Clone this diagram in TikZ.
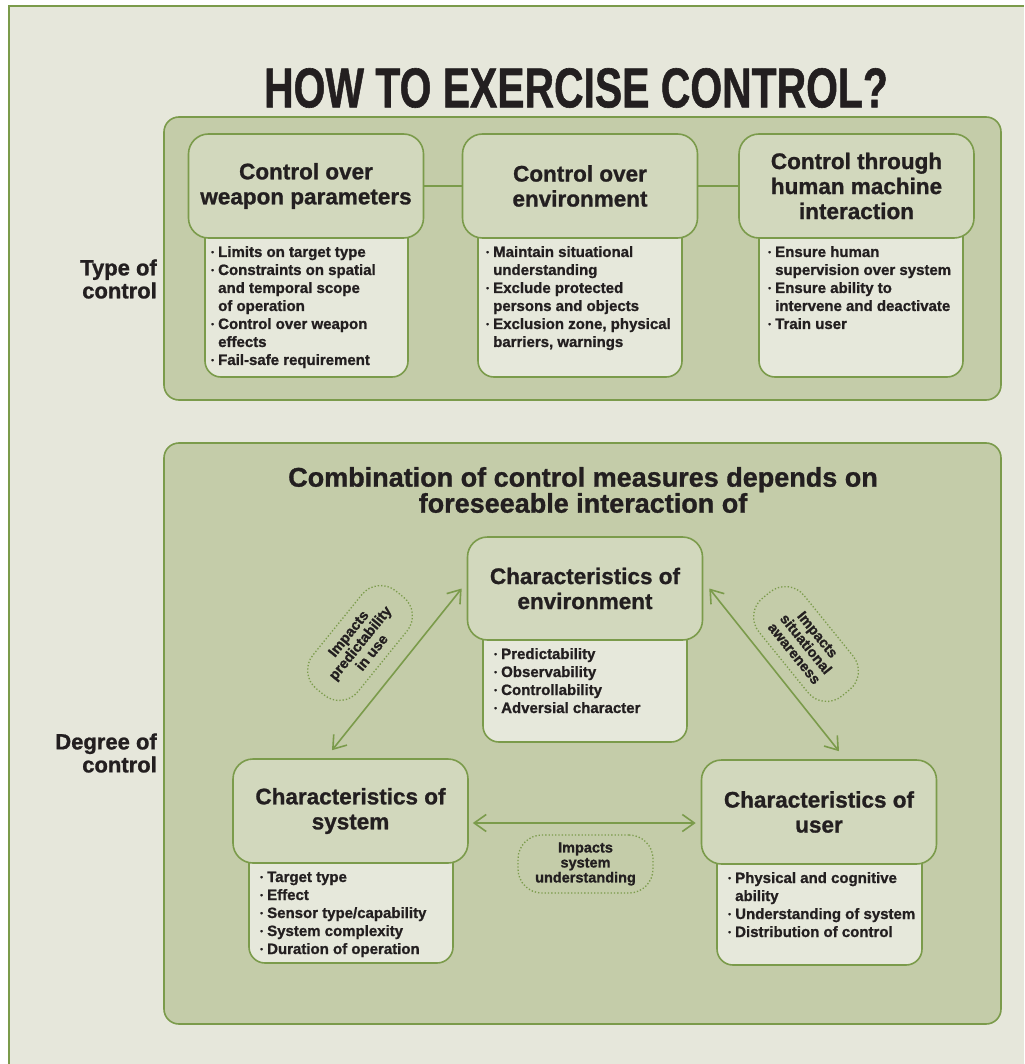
\documentclass[tikz,border=0pt]{standalone}
\usepackage{fontspec}
\setmainfont{Liberation Sans}[BoldFeatures={FakeBold=1.1}]
\usetikzlibrary{arrows.meta}
\definecolor{bgc}{HTML}{E6E7DB}
\definecolor{panelc}{HTML}{C4CCA9}
\definecolor{hdrc}{HTML}{D2D8BD}
\definecolor{lstc}{HTML}{E6E8DB}
\definecolor{grn}{HTML}{7B9B4B}
\definecolor{ink}{HTML}{231F20}
\newcommand\hdrfont{\fontsize{22.5}{25}\selectfont\bfseries}
\newcommand\tagfont{\fontsize{14.5}{15}\selectfont\bfseries}
\newcommand\sidefont{\fontsize{22}{23}\selectfont\bfseries}
\newcommand\itm[1]{\par\hangindent=7pt\hangafter=1\noindent\makebox[7pt][l]{\raisebox{2.2pt}{\fontsize{8}{8}\selectfont •}}#1}
\newcommand\lstbox[1]{\parbox[t]{215pt}{\raggedright\fontsize{15}{18}\selectfont\bfseries #1}}
\tikzset{
  panel/.style={draw=grn, line width=1.6pt, fill=panelc, rounded corners=15pt, inner sep=0pt},
  hdr/.style={draw=grn, line width=1.6pt, fill=hdrc, rounded corners=20pt, minimum width=235pt, minimum height=104pt, align=center, font=\hdrfont, text=ink, inner sep=0pt},
  lbox/.style={draw=grn, line width=1.6pt, fill=lstc, rounded corners=16pt, inner sep=0pt},
  txt/.style={anchor=base west, inner sep=0pt, text=ink},
  tag/.style={draw=grn, line width=1.3pt, dotted, rounded corners=24pt, minimum height=58pt, minimum width=126pt, align=center, font=\tagfont, text=ink, inner sep=0pt},
  link/.style={draw=grn, line width=1.6pt},
  dbl/.style={link, {Straight Barb[length=12pt,width=17pt]}-{Straight Barb[length=12pt,width=17pt]}},
  side/.style={align=right, anchor=east, font=\sidefont, text=ink, inner sep=0pt}
}
\begin{document}
\begin{tikzpicture}[x=1pt,y=-1pt]
\useasboundingbox (0,0) rectangle (1024,1064);
\fill[white] (0,0) rectangle (1024,1064);
\fill[bgc] (9,6) rectangle (1024,1064);
\draw[grn, line width=1.2pt] (9,1064) -- (9,6) -- (1024,6);

% title
\node[inner sep=0pt, text=ink] (title) at (576,88)
  {\scalebox{0.73}[1]{\fontsize{56}{56}\selectfont\bfseries\addfontfeatures{FakeBold=2.2}HOW TO EXERCISE CONTROL?}};

% panels
\node[panel, minimum width=837pt, minimum height=283pt] (toppanel) at (582.5,258.5) {};
\node[panel, minimum width=837pt, minimum height=581pt] (botpanel) at (582.5,733.5) {};

% side labels
\node[side] (typelab) at (157,279) {Type of\\control};
\node[side] (deglab) at (157,753) {Degree of\\control};

% top list boxes
\node[lbox, minimum width=203pt, minimum height=177pt] (l1) at (306.5,288.5) {};
\node[lbox, minimum width=204pt, minimum height=177pt] (l2) at (580,288.5) {};
\node[lbox, minimum width=204pt, minimum height=177pt] (l3) at (861,288.5) {};

% top headers
\node[hdr] (h1) at (306,186) {Control over\\weapon parameters};
\node[hdr] (h2) at (580,186) {Control over\\environment};
\node[hdr] (h3) at (856.5,186) {Control through\\human machine\\interaction};
\draw[link] (h1.east) -- (h2.west);
\draw[link] (h2.east) -- (h3.west);

% top list texts
\node[txt] (t1) at (211,257) {\lstbox{%
  \itm{Limits on target type}
  \itm{Constraints on spatial\newline and temporal scope\newline of operation}
  \itm{Control over weapon\newline effects}
  \itm{Fail-safe requirement}}};
\node[txt] (t2) at (486,257) {\lstbox{%
  \itm{Maintain situational\newline understanding}
  \itm{Exclude protected\newline persons and objects}
  \itm{Exclusion zone, physical\newline barriers, warnings}}};
\node[txt] (t3) at (768,257) {\lstbox{%
  \itm{Ensure human\newline supervision over system}
  \itm{Ensure ability to\newline intervene and deactivate}
  \itm{Train user}}};

% bottom title
\node[align=center, inner sep=0pt, text=ink, font=\fontsize{27}{26}\selectfont\bfseries] (ctitle) at (583,490)
  {Combination of control measures depends on\\foreseeable interaction of};

% bottom list boxes
\node[lbox, minimum width=204pt, minimum height=142pt] (le) at (585,671) {};
\node[lbox, minimum width=204pt, minimum height=133pt] (ls) at (351,896.5) {};
\node[lbox, minimum width=205pt, minimum height=135pt] (lu) at (819.5,897.5) {};

% bottom headers
\node[hdr, minimum height=103pt] (he) at (585,588.5) {Characteristics of\\environment};
\node[hdr] (hs) at (350.5,811) {Characteristics of\\system};
\node[hdr] (hu) at (819,812) {Characteristics of\\user};

% bottom list texts
\node[txt] (te) at (494,659) {\lstbox{%
  \itm{Predictability}
  \itm{Observability}
  \itm{Controllability}
  \itm{Adversial character}}};
\node[txt] (ts) at (260,882) {\lstbox{%
  \itm{Target type}
  \itm{Effect}
  \itm{Sensor type/capability}
  \itm{System complexity}
  \itm{Duration of operation}}};
\node[txt] (tu) at (728,883) {\lstbox{%
  \itm{Physical and cognitive\newline ability}
  \itm{Understanding of system}
  \itm{Distribution of control}}};

% arrows
\draw[dbl] ([xshift=-18.5pt,yshift=8pt]hs.north) -- ([xshift=-5pt]he.west);
\draw[dbl] ([xshift=6pt]he.east) -- ([xshift=20pt,yshift=8pt]hu.north);
\draw[dbl] ([xshift=4pt,yshift=-12pt]hs.east) -- ([xshift=-5pt,yshift=-11pt]hu.west);

% tags
\node[tag, minimum width=135pt, minimum height=58pt] (tagS) at (585.5,864) {Impacts\\system\\understanding};
\node[tag, rotate=51] (tagP) at (360,643) {Impacts\\predictability\\in use};
\node[tag, rotate=-51] (tagA) at (806,644) {Impacts\\situational\\awareness};
\end{tikzpicture}
\end{document}
